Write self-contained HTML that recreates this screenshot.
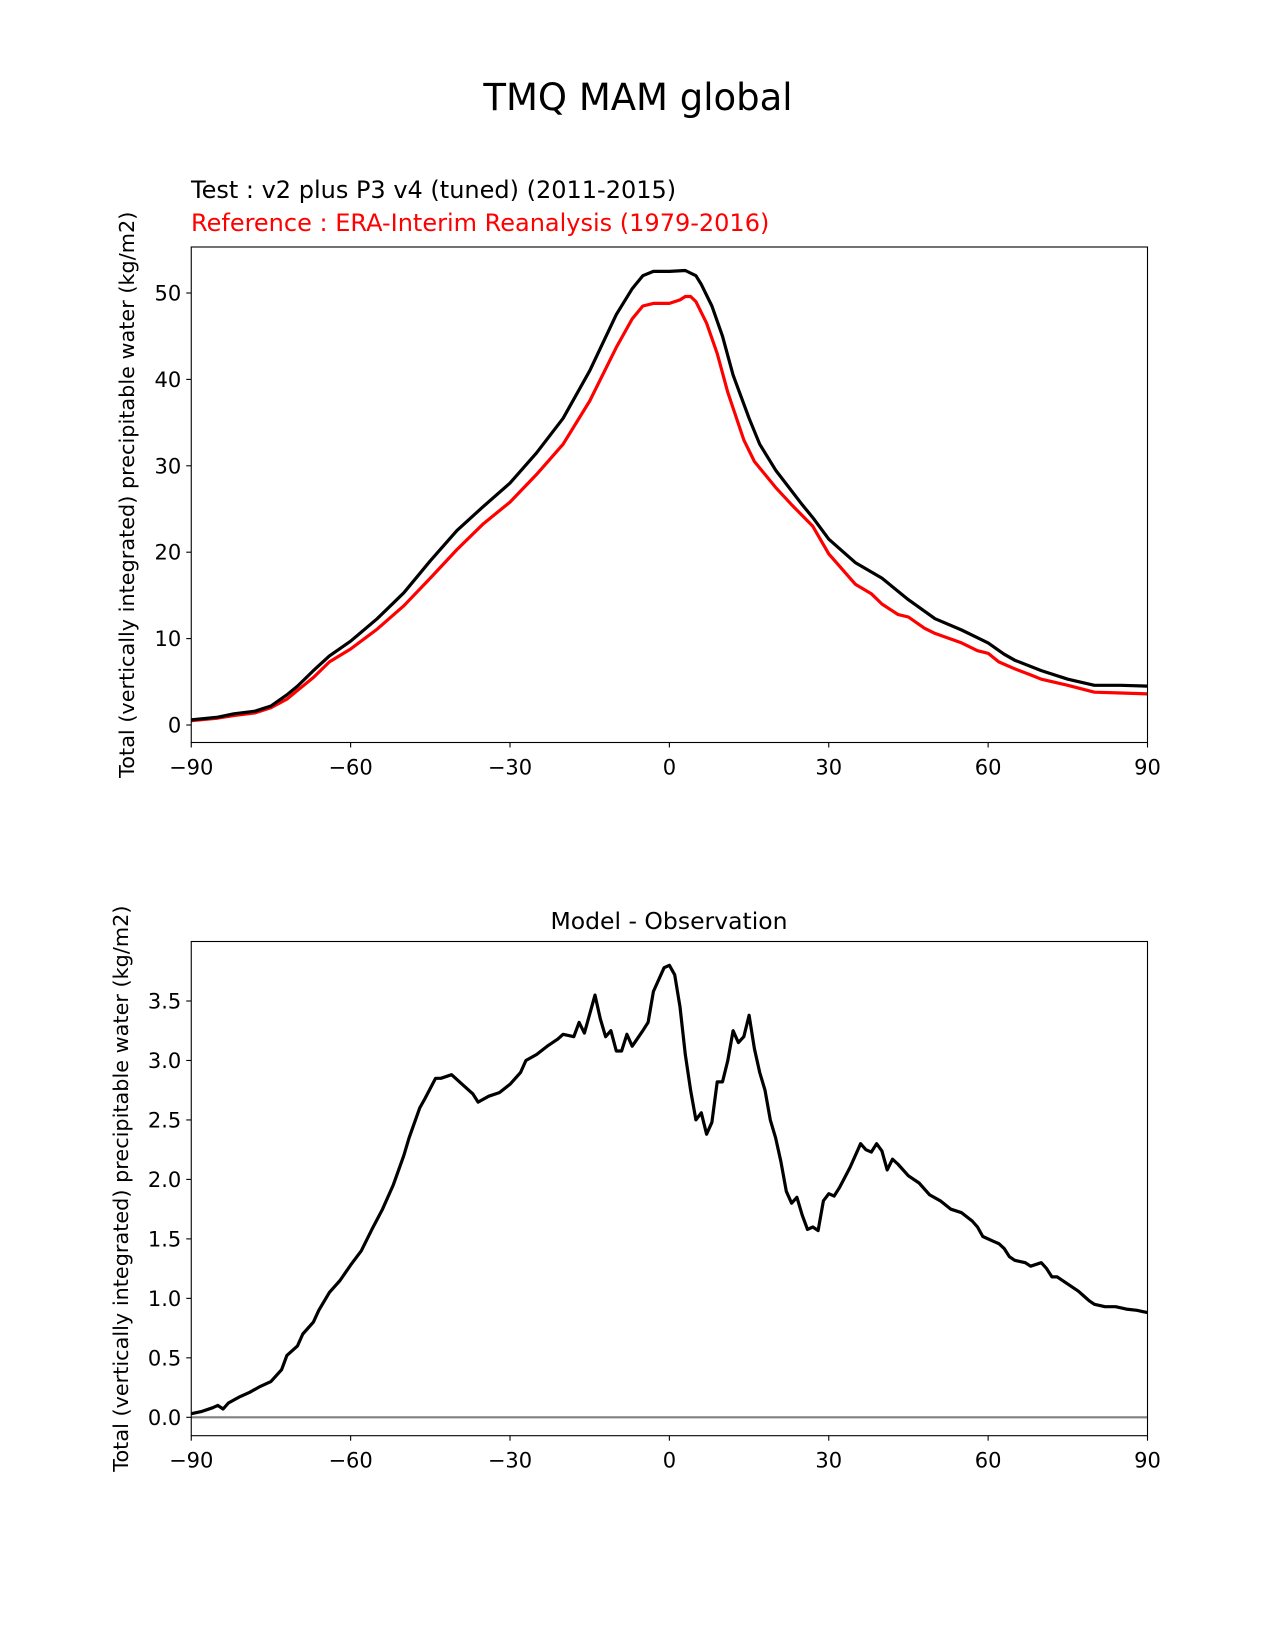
<!DOCTYPE html>
<html><head><meta charset="utf-8"><style>
body{margin:0;background:#fff}
svg{display:block;font-family:"DejaVu Sans","Liberation Sans",sans-serif}
</style></head><body>
<svg id="fig" width="1275" height="1650" viewBox="0 0 1275 1650">
<text x="638" y="110" font-size="37" text-anchor="middle">TMQ MAM global</text>
<text x="191" y="198" font-size="24">Test : v2 plus P3 v4 (tuned) (2011-2015)</text>
<text x="191" y="231" font-size="24" fill="#ff0000">Reference : ERA-Interim Reanalysis (1979-2016)</text>
<text x="669" y="929" font-size="23.5" text-anchor="middle">Model - Observation</text>
<g id="top"></g>
<g id="bot"></g>
</svg>
<script>
const topLat=[-90,-85,-82,-78,-75,-72,-70,-67,-64,-60,-55,-50,-45,-40,-35,-30,-25,-20,-15,-10,-7,-5,-3,0,3,5,6,8,10,12,15,17,20,25,27,30,35,40,45,50,55,60,63,65,70,75,80,85,90];
const testVals=[0.6,0.9,1.3,1.6,2.2,3.5,4.5,6.3,8,9.7,12.3,15.3,19,22.5,25.3,28,31.5,35.5,41,47.5,50.5,52,52.5,52.5,52.6,52,51,48.5,45,40.5,35.5,32.5,29.5,25.5,24,21.5,18.8,17,14.5,12.3,11,9.5,8.2,7.5,6.3,5.3,4.6,4.6,4.5];
const refLat=[-90,-85,-82,-78,-75,-72,-70,-67,-64,-60,-55,-50,-45,-40,-35,-30,-25,-20,-15,-10,-7,-5,-3,0,2,3,4,5,7,9,11,14,16,20,23,27,30,35,38,40,43,45,48,50,55,58,60,62,65,68,70,75,80,85,90];
const refVals=[0.5,0.8,1.1,1.4,2,3,4,5.5,7.3,8.8,11.1,13.8,17,20.3,23.3,25.8,29,32.5,37.5,43.7,47,48.5,48.8,48.8,49.2,49.6,49.6,49,46.5,43,38.5,33,30.5,27.5,25.5,23,19.8,16.3,15.2,14,12.8,12.5,11.2,10.6,9.5,8.6,8.3,7.3,6.5,5.8,5.3,4.6,3.8,3.7,3.6];
const diffLat=[-90,-88,-86,-85,-84,-83,-81,-79,-77,-75,-73,-72,-70,-69,-67,-66,-64,-62,-60,-58,-56,-54,-52,-50,-49,-47,-46,-44,-43,-41,-39,-37,-36,-34,-32,-30,-28,-27,-25,-23,-21,-20,-18,-17,-16,-14,-13,-12,-11,-10,-9,-8,-7,-5,-4,-3,-1,0,1,2,3,4,5,6,7,8,9,10,11,12,13,14,15,16,17,18,19,20,21,22,23,24,25,26,27,28,29,30,31,32,34,36,37,38,39,40,41,42,43,45,47,49,51,53,55,57,58,59,61,62,63,64,65,67,68,70,71,72,73,75,77,78,79,80,82,84,86,88,90];
const diffVals=[0.03,0.05,0.08,0.1,0.07,0.12,0.17,0.21,0.26,0.3,0.4,0.52,0.6,0.7,0.8,0.9,1.05,1.15,1.28,1.4,1.58,1.75,1.95,2.2,2.35,2.6,2.68,2.85,2.85,2.88,2.8,2.72,2.65,2.7,2.73,2.8,2.9,3.0,3.05,3.12,3.18,3.22,3.2,3.32,3.23,3.55,3.35,3.2,3.25,3.08,3.08,3.22,3.12,3.25,3.32,3.58,3.78,3.8,3.72,3.45,3.05,2.75,2.5,2.56,2.38,2.48,2.82,2.82,3.0,3.25,3.15,3.2,3.38,3.1,2.9,2.75,2.5,2.35,2.15,1.9,1.8,1.85,1.7,1.58,1.6,1.57,1.82,1.88,1.86,1.93,2.1,2.3,2.25,2.23,2.3,2.24,2.08,2.17,2.13,2.03,1.97,1.87,1.82,1.75,1.72,1.65,1.6,1.52,1.48,1.46,1.42,1.35,1.32,1.3,1.27,1.3,1.25,1.18,1.18,1.12,1.06,1.02,0.98,0.95,0.93,0.93,0.91,0.9,0.88];
const xTicks=[-90,-60,-30,0,30,60,90];
const xTickLabels=["\u221290","\u221260","\u221230","0","30","60","90"];
const topYTicks=[0,10,20,30,40,50];
const botYTicks=[0,0.5,1,1.5,2,2.5,3,3.5];
const NS="http://www.w3.org/2000/svg";
function mk(p,t,a){const e=document.createElementNS(NS,t);for(const k in a)e.setAttribute(k,a[k]);p.appendChild(e);return e;}
function chart(g,L,R,T,B,ymin,ymax,yt,fmt,series,ylab,ylx,zero){
  const xs=v=>L+(v+90)/180*(R-L);
  const ys=v=>B-(v-ymin)/(ymax-ymin)*(B-T);
  if(zero){const z=mk(g,'line',{x1:L,x2:R,y1:ys(0),y2:ys(0),stroke:'#808080','stroke-width':2.2});
    
    }
  series.forEach(s=>{
    const d=s.x.map((v,i)=>(i?'L':'M')+xs(v).toFixed(1)+','+ys(s.y[i]).toFixed(1)).join('');
    const p=mk(g,'path',{d:d,fill:'none',stroke:s.c,'stroke-width':3.2,'stroke-linejoin':'round'});
    
    
  });
  const r=mk(g,'rect',{x:L,y:T,width:R-L,height:B-T,fill:'none',stroke:'#000','stroke-width':1.1});
  
  
  xTicks.forEach((v,i)=>{
    mk(g,'line',{x1:xs(v),x2:xs(v),y1:B,y2:B+5,stroke:'#000','stroke-width':1.1});
    const t=mk(g,'text',{x:xs(v),y:B+32,'font-size':21,'text-anchor':'middle'});t.textContent=xTickLabels[i];
    
    
  });
  yt.forEach(v=>{
    mk(g,'line',{x1:L-5,x2:L,y1:ys(v),y2:ys(v),stroke:'#000','stroke-width':1.1});
    const t=mk(g,'text',{x:L-10,y:ys(v)+7.5,'font-size':21,'text-anchor':'end'});t.textContent=fmt(v);
    
    
  });
  const cy=(T+B)/2;
  const yl=mk(g,'text',{x:ylx,y:cy,'font-size':20.8,'text-anchor':'middle',transform:`rotate(-90 ${ylx} ${cy})`});
  yl.textContent=ylab;
  
  
}
const lab="Total (vertically integrated) precipitable water (kg/m2)";
const tT=247,tB=742.5,k1=(725-293)/50;
chart(document.getElementById('top'),191.25,1147.5,tT,tB,-(tB-725)/k1,(725-tT)/k1,topYTicks,v=>String(v),
 [{x:refLat,y:refVals,c:'#ff0000',n:'reference-line'},{x:topLat,y:testVals,c:'#000',n:'test-line'}],lab,134,false);
const bT=941.5,bB=1435.7,k2=(1417.3-1001)/3.5;
chart(document.getElementById('bot'),191.25,1147.5,bT,bB,-(bB-1417.3)/k2,(1417.3-bT)/k2,botYTicks,v=>v.toFixed(1),
 [{x:diffLat,y:diffVals,c:'#000',n:'diff-line'}],lab,128,true);
</script>
</body></html>
